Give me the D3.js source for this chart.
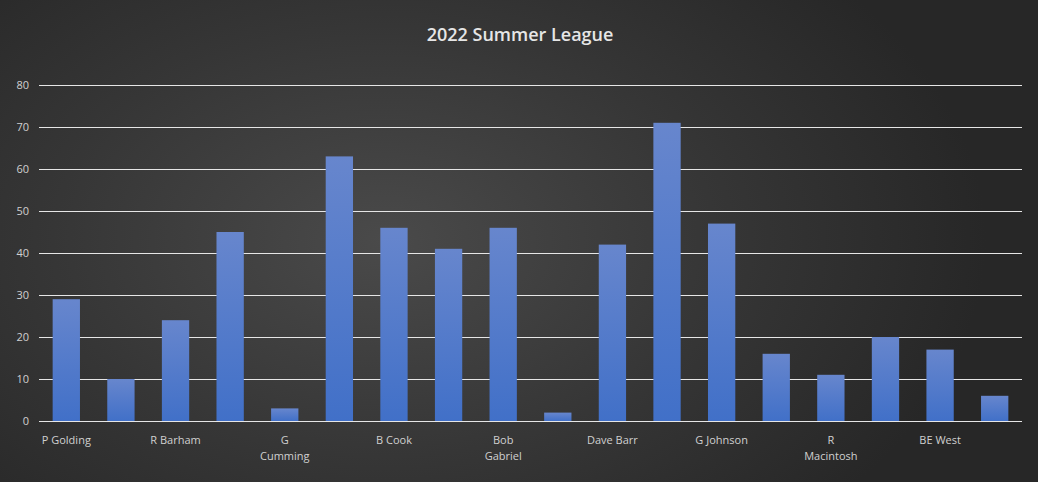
<!DOCTYPE html>
<html>
<head>
<meta charset="utf-8">
<script src="https://cdn.jsdelivr.net/npm/d3@7"></script>
<style>
  html, body { margin: 0; padding: 0; background: #262626; }
  svg { display: block; }
</style>
</head>
<body>
<svg id="chart" width="1038" height="482"></svg>
<script>
// Players in league order; only every other name fits under the axis
const players = [
  "P Golding", "", "R Barham", "", "G\nCumming", "", "B Cook", "", "Bob\nGabriel", "",
  "Dave Barr", "", "G Johnson", "", "R\nMacintosh", "", "BE West", ""
];
// Points per player
const points = [29, 10, 24, 45, 3, 63, 46, 41, 46, 2, 42, 71, 47, 16, 11, 20, 17, 6];
const yTicks = [0, 10, 20, 30, 40, 50, 60, 70, 80];
const title = "2022 Summer League";

const W = 1038, H = 482;
const margin = { left: 39, right: 16, top: 85, bottom: 61 };
const svg = d3.select("#chart");
const defs = svg.append("defs");

// Background with soft spotlight
const bg = defs.append("radialGradient").attr("id", "bgGlow")
  .attr("cx", "0.37").attr("cy", "0.5").attr("r", "0.58")
  .attr("gradientTransform", "translate(0.37,0.5) scale(1,1.4) translate(-0.37,-0.5)");
bg.append("stop").attr("offset", "0").attr("stop-color", "#4a4a4a");
bg.append("stop").attr("offset", "0.55").attr("stop-color", "#363636");
bg.append("stop").attr("offset", "1").attr("stop-color", "#272727");
svg.append("rect").attr("width", W).attr("height", H).attr("fill", "url(#bgGlow)");

// Bar fill: lighter at the top, deeper blue at the base
const barGrad = defs.append("linearGradient").attr("id", "barFill")
  .attr("x1", 0).attr("y1", 0).attr("x2", 0).attr("y2", 1);
barGrad.append("stop").attr("offset", "0").attr("stop-color", "#6786cd");
barGrad.append("stop").attr("offset", "1").attr("stop-color", "#4170c8");

const x = d3.scaleBand()
  .domain(d3.range(points.length))
  .range([margin.left, W - margin.right])
  .paddingInner(0.5).paddingOuter(0.25);

const y = d3.scaleLinear()
  .domain([0, 80])
  .range([H - margin.bottom, margin.top]);

// Title
svg.append("text")
  .attr("x", W / 2 + 1).attr("y", 41)
  .attr("text-anchor", "middle")
  .attr("font-family", "'Open Sans', 'Noto Sans', sans-serif")
  .attr("font-size", 18).attr("font-weight", 600)
  .attr("fill", "#e6e6e6")
  .text(title);

// Horizontal gridlines and value labels
const yAxis = d3.axisLeft(y).tickValues(yTicks)
  .tickSize(-(W - margin.left - margin.right)).tickPadding(10);
const gy = svg.append("g").attr("transform", `translate(${margin.left},0)`).call(yAxis);
gy.select(".domain").remove();
gy.selectAll(".tick line").attr("stroke", "#e6e6e6").attr("stroke-width", 1);
gy.selectAll(".tick text")
  .attr("fill", "#d0d0d0")
  .attr("font-family", "'Open Sans', 'Noto Sans', sans-serif")
  .attr("font-size", 11);

// Bars
svg.append("g").selectAll("rect")
  .data(points)
  .join("rect")
  .attr("x", (d, i) => x(i))
  .attr("y", d => y(d))
  .attr("width", x.bandwidth())
  .attr("height", d => y(0) - y(d))
  .attr("fill", "url(#barFill)");

// Category axis
const xAxis = d3.axisBottom(x).tickSize(0).tickPadding(0)
  .tickFormat(i => players[i]);
const gx = svg.append("g").attr("transform", `translate(0,${y(0)})`).call(xAxis);
gx.select(".domain").attr("stroke", "#e6e6e6").attr("d", `M${margin.left},0.5H${W - margin.right}`);
gx.selectAll(".tick text").each(function (i) {
  const t = d3.select(this);
  const lines = players[i].split("\n");
  t.text(null)
    .attr("y", 0).attr("dy", null)
    .attr("fill", "#d0d0d0")
    .attr("font-family", "'Open Sans', 'Noto Sans', sans-serif")
    .attr("font-size", 11);
  lines.forEach((ln, k) => {
    t.append("tspan").attr("x", 0).attr("y", 23 + k * 16).text(ln);
  });
});
</script>
</body>
</html>
